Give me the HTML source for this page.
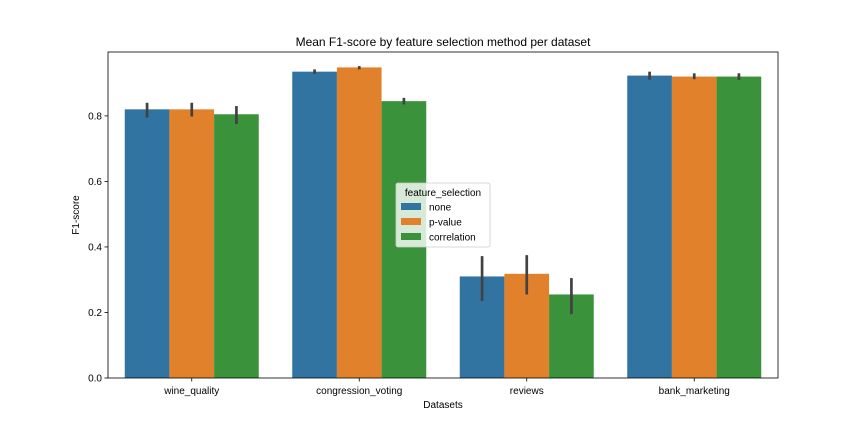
<!DOCTYPE html>
<html><head><meta charset="utf-8"><style>
body{margin:0;background:#fff;}
svg{display:block;font-family:"Liberation Sans","DejaVu Sans",sans-serif;}
</style></head><body>
<svg id="chart" width="864" height="432" viewBox="0 0 864 432">
<text x="443" y="46" text-anchor="middle" font-size="12">Mean F1-score by feature selection method per dataset</text>
<g id="bars"></g>
<g id="axes"></g>
</svg>
<script>
const categories = ["wine_quality","congression_voting","reviews","bank_marketing"];
const seriesNames = ["none","p-value","correlation"];
const noneVals = [0.820, 0.935, 0.310, 0.923];
const pvalVals = [0.820, 0.948, 0.318, 0.920];
const corrVals = [0.805, 0.845, 0.255, 0.920];
const noneErr = [[0.795,0.840],[0.928,0.942],[0.235,0.372],[0.910,0.935]];
const pvalErr = [[0.798,0.840],[0.942,0.952],[0.255,0.375],[0.912,0.930]];
const corrErr = [[0.775,0.830],[0.835,0.855],[0.195,0.305],[0.910,0.930]];
const yTicks = [0.0,0.2,0.4,0.6,0.8];
const colors = ["#3274a1","#e1812c","#3a923a"];
const NS="http://www.w3.org/2000/svg";
const L=108,R=778,T=52,B=378,YMAX=0.995;
const y=v=>B-(v/YMAX)*(B-T);
const step=(R-L)/categories.length;
const bw=step*0.8/3;
const xc=i=>L+step*(i+0.5);
function mk(tag,attrs,parent){const e=document.createElementNS(NS,tag);for(const k in attrs)e.setAttribute(k,attrs[k]);parent.appendChild(e);return e;}
const bars=document.getElementById('bars'), axes=document.getElementById('axes');
const vals=[noneVals,pvalVals,corrVals], errs=[noneErr,pvalErr,corrErr];
vals.forEach((arr,s)=>{arr.forEach((v,i)=>{
  const x=xc(i)-1.5*bw+s*bw;
  const r=mk('rect',{x:x,y:y(v),width:bw,height:B-y(v),fill:colors[s]},bars);
  
  
  const e=errs[s][i];
  const l=mk('line',{x1:x+bw/2,x2:x+bw/2,y1:y(e[0]),y2:y(e[1]),stroke:'#424242','stroke-width':2.7},bars);
  
  
});});
const frame=mk('rect',{x:L,y:T,width:R-L,height:B-T,fill:'none',stroke:'#000','stroke-width':0.8},axes);


yTicks.forEach(t=>{
  mk('line',{x1:L-3.5,x2:L,y1:y(t),y2:y(t),stroke:'#000','stroke-width':0.8},axes);
  const tx=mk('text',{x:L-6,y:y(t)+3.5,'text-anchor':'end','font-size':10},axes);
  tx.textContent=t.toFixed(1);
  
  
});
categories.forEach((c,i)=>{
  mk('line',{x1:xc(i),x2:xc(i),y1:B,y2:B+3.5,stroke:'#000','stroke-width':0.8},axes);
  const tx=mk('text',{x:xc(i),y:B+16,'text-anchor':'middle','font-size':10},axes);
  tx.textContent=c;
  
  
});
const xt=mk('text',{x:(L+R)/2,y:408,'text-anchor':'middle','font-size':10},axes);
xt.textContent='Datasets';


const yt=mk('text',{x:0,y:0,'text-anchor':'middle','font-size':10,transform:'translate(79,'+((T+B)/2)+') rotate(-90)'},axes);
yt.textContent='F1-score';


const lg=mk('g',{},axes);


mk('rect',{x:396,y:183,width:94,height:64,rx:2,fill:'#fff','fill-opacity':0.8,stroke:'#ccc','stroke-width':0.8},lg);
const lt=mk('text',{x:443,y:196,'text-anchor':'middle','font-size':10},lg);
lt.textContent='feature_selection';
seriesNames.forEach((n,s)=>{
  const g=mk('g',{},lg);
  
  
  mk('rect',{x:401,y:203+s*15,width:20,height:7,fill:colors[s]},g);
  const t=mk('text',{x:429,y:210.5+s*15,'font-size':10},g);
  t.textContent=n;
});
</script>
</body></html>
